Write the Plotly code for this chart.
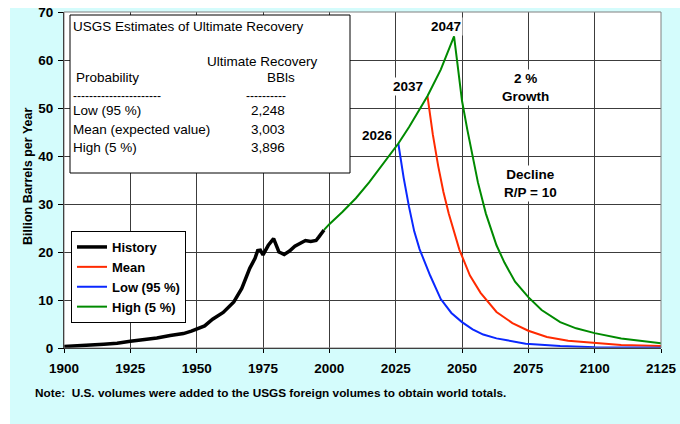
import plotly.graph_objects as go

# ---------------- data ----------------
hist_years = [1900, 1905, 1910, 1915, 1920, 1925, 1930, 1935, 1940, 1945, 1948, 1950,
              1953, 1956, 1960, 1964, 1967, 1970, 1972, 1973, 1974, 1975, 1976, 1977,
              1979, 1980, 1981, 1983, 1985, 1987, 1989, 1991, 1993, 1995, 1996, 1997, 1998]
hist_vals = [0.3, 0.4, 0.6, 0.8, 1.0, 1.4, 1.7, 2.1, 2.6, 3.0, 3.5, 4.0,
             4.6, 6.0, 7.4, 9.6, 12.4, 16.6, 18.7, 20.3, 20.4, 19.4, 20.6, 21.4,
             22.8, 21.5, 20.0, 19.5, 20.2, 21.2, 21.8, 22.4, 22.2, 22.4, 23.1, 23.8, 24.6]

high_years = [1998, 2000, 2005, 2010, 2015, 2020, 2026, 2030, 2034, 2037, 2042, 2047,
              2048, 2050, 2052, 2054, 2056, 2059, 2063, 2066, 2070, 2075, 2080, 2087,
              2093, 2100, 2110, 2125]
high_vals = [24.6, 25.8, 28.4, 31.2, 34.5, 38.3, 42.6, 46.0, 49.6, 52.5, 58.0, 64.9,
             60.5, 51.5, 45.5, 40.0, 34.5, 28.0, 21.4, 17.8, 13.8, 10.6, 7.9, 5.4,
             4.1, 3.1, 2.0, 1.0]

mean_years = [2037, 2039, 2041, 2043, 2045, 2047, 2049, 2053, 2057, 2063, 2069, 2075,
              2082, 2090, 2100, 2110, 2125]
mean_vals = [52.4, 44.5, 38.0, 32.5, 28.0, 24.0, 20.5, 15.1, 11.5, 7.5, 5.2, 3.6,
             2.3, 1.5, 1.0, 0.65, 0.4]

low_years = [2026, 2028, 2030, 2032, 2034, 2038, 2042, 2046, 2050, 2054, 2058, 2063,
             2067, 2074, 2087, 2100, 2125]
low_vals = [42.6, 35.5, 29.5, 24.3, 20.6, 15.1, 10.2, 7.3, 5.4, 3.9, 2.8, 2.0,
            1.6, 0.9, 0.4, 0.15, 0.05]

x_ticks = [1900, 1925, 1950, 1975, 2000, 2025, 2050, 2075, 2100, 2125]
y_ticks = [0, 10, 20, 30, 40, 50, 60, 70]

series_names = ["History", "Mean", "Low (95 %)", "High (5 %)"]

table_title = "USGS Estimates of Ultimate Recovery"
table_col1 = "Probability"
table_col2a = "Ultimate Recovery"
table_col2b = "BBls"
table_rows = ["Low (95 %)", "Mean (expected value)", "High (5 %)"]
table_vals = ["2,248", "3,003", "3,896"]

peak_labels = ["2047", "2037", "2026"]
note_text = "Note:  U.S. volumes were added to the USGS foreign volumes to obtain world totals."
y_title = "Billion Barrels per Year"

# ---------------- layout helpers ----------------
W, H = 680, 424
L, R, T, B = 64, 19, 12, 76
PW, PH = W - L - R, H - T - B


def px(x):
    return (x - L) / PW


def py(y):
    return (H - B - y) / PH


FONT = "Liberation Sans, Arial, sans-serif"
CYAN = "#D4FCFC"

fig = go.Figure()
fig.add_trace(go.Scatter(x=hist_years, y=hist_vals, mode="lines", name=series_names[0],
                         line=dict(color="black", width=3.5)))
fig.add_trace(go.Scatter(x=mean_years, y=mean_vals, mode="lines", name=series_names[1],
                         line=dict(color="#FF2A00", width=2)))
fig.add_trace(go.Scatter(x=low_years, y=low_vals, mode="lines", name=series_names[2],
                         line=dict(color="#0A28FF", width=2)))
fig.add_trace(go.Scatter(x=high_years, y=high_vals, mode="lines", name=series_names[3],
                         line=dict(color="#008A00", width=2)))

shapes = [
    # white page bands (top and left)
    dict(type="rect", xref="paper", yref="paper", x0=px(-5), x1=px(W + 5), y0=py(8), y1=py(-5),
         fillcolor="white", line=dict(width=0), layer="above"),
    dict(type="rect", xref="paper", yref="paper", x0=px(-5), x1=px(10), y0=py(H + 5), y1=py(-5),
         fillcolor="white", line=dict(width=0), layer="above"),
    # plot frame
    dict(type="rect", xref="paper", yref="paper", x0=0, x1=1, y0=0, y1=1,
         line=dict(color="#808080", width=1), layer="above"),
    # table box
    dict(type="rect", xref="paper", yref="paper", x0=px(70), x1=px(350), y0=py(173), y1=py(15),
         fillcolor="white", line=dict(color="black", width=1), layer="above"),
]

ann = []


def add_text(text, x, y, size=13.5, bold=False, xanchor="left", bg=None, angle=0):
    d = dict(text=text, xref="paper", yref="paper", x=px(x), y=py(y), showarrow=False,
             xanchor=xanchor, yanchor="middle", textangle=angle,
             font=dict(family=FONT, size=size, color="black", weight="bold" if bold else "normal"))
    if bg:
        d.update(bgcolor=bg, borderpad=1)
    ann.append(d)


# table content
add_text(table_title, 71, 27)
add_text(table_col2a, 262, 61, xanchor="center")
add_text(table_col1, 74, 78)
add_text(table_col2b, 281, 78, xanchor="center")
add_text("-" * 22, 71, 96, size=12)
add_text("-" * 10, 266, 96, size=12, xanchor="center")
for i, (r, v) in enumerate(zip(table_rows, table_vals)):
    add_text(r, 71, 111 + 18 * i)
    add_text(v, 268, 111 + 18 * i, xanchor="center")

# curve labels
add_text("<b>" + peak_labels[0] + "</b>", 446, 27, xanchor="center", bg="white")
add_text("<b>" + peak_labels[1] + "</b>", 408, 86, xanchor="center", bg="white")
add_text("<b>" + peak_labels[2] + "</b>", 377, 135, xanchor="center", bg="white")
add_text("<b>2 %<br>Growth</b>", 525, 87, xanchor="center", bg="white")
add_text("<b>Decline<br>R/P = 10</b>", 530, 183, xanchor="center", bg="white")

# axis title and note
add_text("<b>" + y_title + "</b>", 28, 177, size=12.5, xanchor="center", angle=-90)
add_text("<b>" + note_text + "</b>", 33, 393, size=11.8)

fig.update_layout(
    width=W, height=H,
    margin=dict(l=L, r=R, t=T, b=B, pad=0, autoexpand=False),
    paper_bgcolor=CYAN, plot_bgcolor="white",
    font=dict(family=FONT, color="black"),
    shapes=shapes, annotations=ann,
    legend=dict(x=px(71), y=py(231), xanchor="left", yanchor="top",
                bgcolor="white", bordercolor="black", borderwidth=1,
                font=dict(family=FONT, size=13, color="black", weight="bold"),
                itemwidth=30, tracegroupgap=0),
)
fig.update_xaxes(range=[1900, 2125], tickvals=x_ticks, ticktext=[str(v) for v in x_ticks],
                 automargin=False,
                 showgrid=True, gridcolor="#3c3c3c", gridwidth=1, zeroline=False,
                 showline=True, linecolor="black", linewidth=1,
                 ticks="outside", ticklen=4, tickcolor="black", ticklabelstandoff=4,
                 tickfont=dict(family=FONT, size=13.5, color="black", weight="bold"))
fig.update_yaxes(range=[0, 70], tickvals=y_ticks, ticktext=[str(v) for v in y_ticks],
                 automargin=False,
                 showgrid=True, gridcolor="#3c3c3c", gridwidth=1, zeroline=False,
                 showline=True, linecolor="black", linewidth=1,
                 ticks="outside", ticklen=5, tickcolor="black", ticklabelstandoff=2,
                 tickfont=dict(family=FONT, size=13.5, color="black", weight="bold"))

fig.write_html("out.html", config={"displayModeBar": False},
               post_script="document.body.style.margin='0';document.body.style.overflow='hidden';")
